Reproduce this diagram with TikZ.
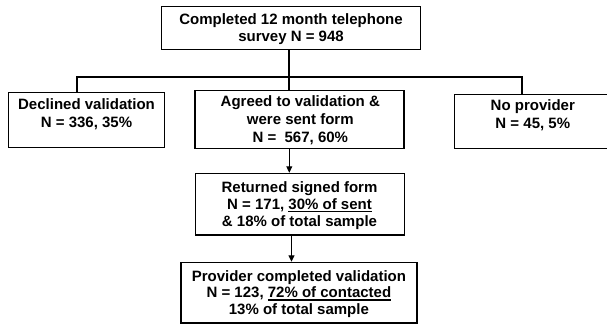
\documentclass[tikz,border=0pt]{standalone}
\usepackage{fontspec}
\setmainfont{Liberation Sans}
\usetikzlibrary{arrows.meta}
\newcommand\ulx[1]{\setbox0\hbox{#1}\rlap{\rule[-2.8pt]{\wd0}{1.5pt}}\box0}
\begin{document}
\begin{tikzpicture}[x=1pt,y=-1pt,
  box/.style={draw=black, line width=1.2pt, fill=white, inner sep=0pt, rectangle},
  txt/.style={anchor=north, inner sep=0pt, align=center, font=\fontsize{15}{16.7}\selectfont\bfseries},
  wide/.style={font=\fontsize{15}{18.2}\selectfont\bfseries},
  branch/.style={line width=1.8pt},
  arr/.style={line width=1pt, -{Triangle[length=6.5pt,width=6pt]}}]
\useasboundingbox (0,0) rectangle (607,325);
% boxes
\node[box, minimum width=259pt, minimum height=42.6pt] (top) at (291.2,28) {};
\node[box, minimum width=156pt, minimum height=54.6pt] (decl) at (86.3,120) {};
\node[box, minimum width=209pt, minimum height=57.6pt] (agree) at (299.5,119.5) {};
\node[box, minimum width=156.7pt, minimum height=54pt] (noprov) at (532.7,121.3) {};
\node[box, minimum width=208.6pt, minimum height=61.7pt] (ret) at (300,204.2) {};
\node[box, minimum width=236pt, minimum height=60.7pt] (final) at (299,292.7) {};
% texts
\node[txt] (toptxt) at (291,13.3) {Completed 12 month telephone\\survey N = 948};
\node[txt, wide] (decltxt) at (86.5,98.3) {Declined validation\\N = 336, 35\%};
\node[txt, wide] (agtxt) at (300.3,95) {Agreed to validation \&\\were sent form\\N = \ 567, 60\%};
\node[txt, wide] (nptxt) at (532.8,99.5) {No provider\\N = 45, 5\%};
\node[txt] (rettxt) at (299.5,181.7) {Returned signed form\\N = 171, \ulx{30\% of sent}\\\& 18\% of total sample};
\node[txt] (fintxt) at (298.9,270) {Provider completed validation\\N = 123, \ulx{72\% of contacted}\\13\% of total sample};
% connectors
\coordinate (j) at (289.3,77.3);
\coordinate (jl) at (77.3,77.3);
\coordinate (jr) at (522.3,77.3);
\draw[branch] (j |- top.south) -- (j);
\draw[branch] (jl |- decl.north) -- (jl) -- (jr) -- (jr |- noprov.north);
\draw[branch] (j) -- (j |- agree.north);
\coordinate (a1) at (289.3,0);
\coordinate (a2) at (291.5,0);
\draw[arr] (a1 |- agree.south) -- (a1 |- ret.north);
\draw[arr] (a2 |- ret.south) -- (a2 |- final.north);
\end{tikzpicture}
\end{document}
